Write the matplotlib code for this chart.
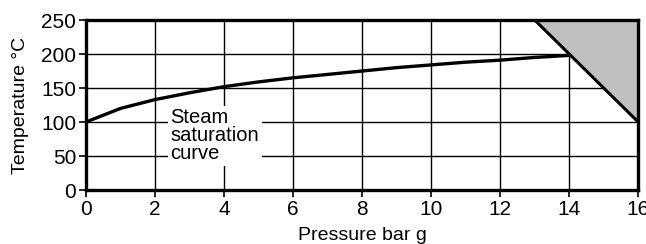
import matplotlib.pyplot as plt
from matplotlib.patches import Polygon

plt.rcParams["font.family"] = ["Liberation Sans", "DejaVu Sans"]

# steam saturation curve (bar g -> deg C)
pressure = [0, 1, 2, 3, 4, 5, 6, 7, 8, 9, 10, 11, 12, 13, 14]
temperature = [100, 120, 133, 143, 152, 159, 165, 170, 175, 180, 184, 188, 191, 195, 198]

# shaded limit region
limit_p = [13, 16, 16]
limit_t = [250, 250, 100]

x_ticks = [0, 2, 4, 6, 8, 10, 12, 14, 16]
y_ticks = [0, 50, 100, 150, 200, 250]

fig = plt.figure(figsize=(6.46, 2.44), dpi=100)
ax = fig.add_axes([0.133, 0.221, 0.855, 0.697])

ax.set_xlim(0, 16)
ax.set_ylim(0, 250)
ax.set_xticks(x_ticks)
ax.set_yticks(y_ticks)
ax.grid(True, color="black", linewidth=1.0)
ax.set_axisbelow(True)

ax.add_patch(Polygon(list(zip(limit_p, limit_t)), closed=True,
                     facecolor="#c0c0c0", edgecolor="none", zorder=2))
ax.plot([limit_p[0], limit_p[2]], [limit_t[0], limit_t[2]],
        color="black", linewidth=2.2, zorder=3)

ax.plot(pressure, temperature, color="black", linewidth=2.4, zorder=3,
        solid_capstyle="butt")

ax.text(2.45, 80, "Steam\nsaturation\ncurve", fontsize=14.5, va="center",
        ha="left", linespacing=0.92, zorder=4,
        bbox=dict(facecolor="white", edgecolor="none", pad=2))

for s in ax.spines.values():
    s.set_linewidth(2.4)
    s.set_zorder(5)

ax.tick_params(axis="both", direction="out", length=5, width=1.2,
               labelsize=15, pad=2)
ax.set_xlabel("Pressure bar g", fontsize=14, labelpad=6)
ax.set_ylabel("Temperature °C", fontsize=14, labelpad=9)

fig.savefig("out.png", dpi=100)
